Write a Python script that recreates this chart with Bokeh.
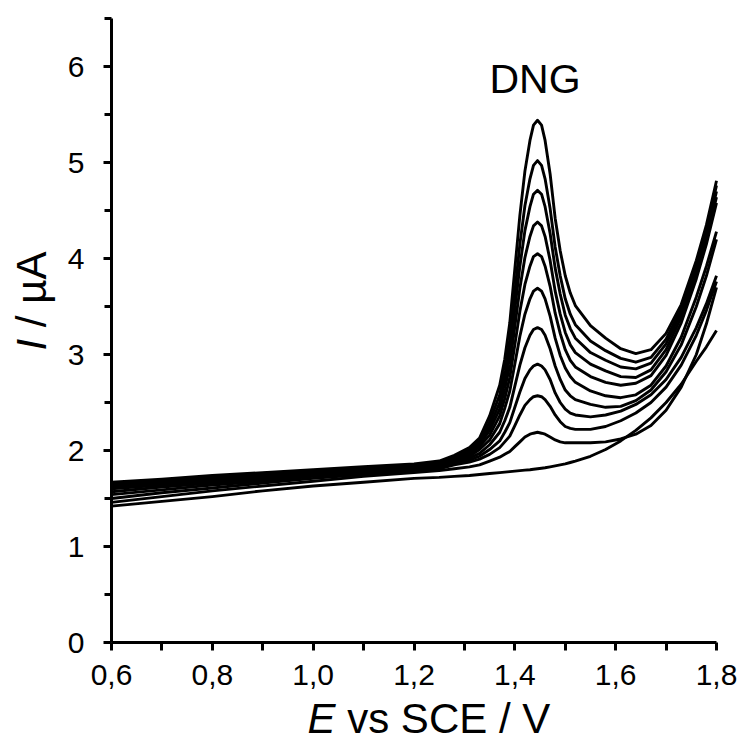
import math
from bokeh.plotting import figure
from bokeh.models import Range1d, FixedTicker, CustomJSTickFormatter, Label, ColumnDataSource
from bokeh.embed import file_html
from bokeh.resources import INLINE

# Potential E vs SCE / V
E = [0.60, 0.70, 0.80, 0.90, 1.00, 1.10, 1.20, 1.25, 1.28, 1.31, 1.33, 1.35, 1.37,
     1.38, 1.39, 1.40, 1.41, 1.42, 1.43, 1.437, 1.445, 1.453, 1.46, 1.47, 1.48, 1.49, 1.50,
     1.51, 1.52, 1.55, 1.58, 1.61, 1.64, 1.67, 1.70, 1.73, 1.76, 1.78, 1.80]

# Current I / uA for each voltammogram (largest DNG peak first, blank last)
c1 = [1.67, 1.70, 1.74, 1.77, 1.80, 1.83, 1.86, 1.89, 1.95, 2.03, 2.13, 2.36, 2.68,
      2.95, 3.33, 3.89, 4.45, 4.91, 5.23, 5.39, 5.44, 5.39, 5.23, 4.88, 4.42, 4.08, 3.82,
      3.64, 3.51, 3.30, 3.17, 3.06, 3.01, 3.05, 3.22, 3.52, 3.98, 4.35, 4.81]
c2 = [1.66, 1.69, 1.73, 1.76, 1.79, 1.82, 1.85, 1.88, 1.94, 2.01, 2.10, 2.30, 2.58,
      2.83, 3.15, 3.65, 4.15, 4.55, 4.83, 4.97, 5.02, 4.97, 4.83, 4.52, 4.12, 3.82, 3.58,
      3.42, 3.31, 3.14, 3.04, 2.96, 2.92, 2.97, 3.16, 3.48, 3.94, 4.30, 4.76]
c3 = [1.65, 1.68, 1.72, 1.75, 1.78, 1.81, 1.84, 1.87, 1.93, 2.00, 2.08, 2.25, 2.50,
      2.73, 3.02, 3.47, 3.92, 4.29, 4.54, 4.67, 4.71, 4.67, 4.54, 4.26, 3.90, 3.63, 3.41,
      3.27, 3.17, 3.02, 2.94, 2.87, 2.85, 2.91, 3.11, 3.44, 3.90, 4.26, 4.70]
c4 = [1.64, 1.67, 1.71, 1.74, 1.77, 1.80, 1.84, 1.86, 1.92, 1.98, 2.06, 2.21, 2.43,
      2.64, 2.89, 3.29, 3.69, 4.01, 4.23, 4.34, 4.38, 4.34, 4.23, 3.98, 3.66, 3.42, 3.23,
      3.10, 3.02, 2.90, 2.83, 2.77, 2.76, 2.84, 3.05, 3.39, 3.85, 4.21, 4.64]
c5 = [1.62, 1.66, 1.70, 1.73, 1.77, 1.80, 1.83, 1.85, 1.91, 1.96, 2.04, 2.16, 2.36,
      2.54, 2.76, 3.10, 3.45, 3.73, 3.92, 4.02, 4.05, 4.02, 3.92, 3.71, 3.43, 3.22, 3.05,
      2.94, 2.87, 2.77, 2.71, 2.68, 2.70, 2.78, 2.99, 3.33, 3.79, 4.15, 4.58]
c6 = [1.60, 1.64, 1.68, 1.72, 1.76, 1.79, 1.82, 1.84, 1.90, 1.94, 2.01, 2.11, 2.28,
      2.44, 2.62, 2.90, 3.19, 3.42, 3.58, 3.66, 3.69, 3.66, 3.58, 3.40, 3.17, 2.99, 2.86,
      2.77, 2.71, 2.62, 2.57, 2.55, 2.58, 2.68, 2.88, 3.18, 3.60, 3.92, 4.28]
c7 = [1.57, 1.62, 1.66, 1.70, 1.74, 1.78, 1.81, 1.83, 1.88, 1.92, 1.97, 2.06, 2.19,
      2.31, 2.45, 2.67, 2.89, 3.07, 3.20, 3.26, 3.28, 3.26, 3.20, 3.06, 2.88, 2.74, 2.63,
      2.57, 2.53, 2.48, 2.45, 2.46, 2.52, 2.63, 2.82, 3.10, 3.50, 3.82, 4.20]
c8 = [1.54, 1.59, 1.64, 1.68, 1.73, 1.77, 1.80, 1.82, 1.87, 1.90, 1.94, 2.01, 2.10,
      2.19, 2.29, 2.45, 2.61, 2.75, 2.84, 2.88, 2.90, 2.88, 2.84, 2.74, 2.60, 2.50, 2.43,
      2.39, 2.37, 2.35, 2.37, 2.41, 2.48, 2.58, 2.74, 2.97, 3.28, 3.53, 3.82]
c9 = [1.50, 1.56, 1.61, 1.66, 1.71, 1.75, 1.79, 1.81, 1.85, 1.88, 1.91, 1.96, 2.03,
      2.09, 2.15, 2.26, 2.37, 2.47, 2.53, 2.56, 2.57, 2.56, 2.53, 2.46, 2.37, 2.30, 2.25,
      2.23, 2.22, 2.22, 2.25, 2.31, 2.39, 2.50, 2.66, 2.89, 3.20, 3.46, 3.76]
c10 = [1.46, 1.52, 1.58, 1.63, 1.68, 1.73, 1.77, 1.79, 1.81, 1.83, 1.85, 1.89, 1.93,
       1.96, 1.99, 2.04, 2.09, 2.14, 2.17, 2.18, 2.19, 2.18, 2.17, 2.14, 2.11, 2.09, 2.08,
       2.08, 2.08, 2.08, 2.09, 2.12, 2.17, 2.26, 2.42, 2.66, 3.00, 3.32, 3.70]
blank = [1.42, 1.47, 1.52, 1.58, 1.63, 1.67, 1.71, 1.72, 1.73, 1.74, 1.75, 1.76, 1.77,
         1.775, 1.78, 1.785, 1.79, 1.795, 1.80, 1.805, 1.81, 1.815, 1.82, 1.83, 1.84, 1.85, 1.86,
         1.875, 1.89, 1.94, 2.01, 2.10, 2.21, 2.34, 2.50, 2.69, 2.93, 3.08, 3.25]

curves = [c1, c2, c3, c4, c5, c6, c7, c8, c9, c10, blank]

x_major = [0.6, 0.8, 1.0, 1.2, 1.4, 1.6, 1.8]
x_minor = [0.7, 0.9, 1.1, 1.3, 1.5, 1.7]
y_major = [0, 1, 2, 3, 4, 5, 6]
y_minor = [0.5, 1.5, 2.5, 3.5, 4.5, 5.5, 6.5]

FONT = "Liberation Sans"

# The frame fills the whole canvas; the axes are pinned at E = 0.6 and I = 0
p = figure(width=742, height=744, output_backend="svg", toolbar_location=None,
           x_range=Range1d(0.37983, 1.85157), y_range=Range1d(-1.0625, 6.6875),
           min_border_left=0, min_border_right=0, min_border_top=0, min_border_bottom=0)
p.outline_line_color = None
p.xgrid.visible = False
p.ygrid.visible = False
p.background_fill_color = "white"
p.border_fill_color = "white"

for c in curves:
    src = ColumnDataSource(dict(x=E, y=c))
    p.line("x", "y", source=src, line_color="black", line_width=2.9, line_join="round")

for ax in (p.xaxis[0], p.yaxis[0]):
    ax.axis_line_width = 3
    ax.axis_line_color = "black"
    ax.major_tick_line_width = 3
    ax.minor_tick_line_width = 3
    ax.major_tick_in = 0
    ax.major_tick_out = 8
    ax.minor_tick_in = 0
    ax.major_label_text_font = FONT
    ax.major_label_text_font_size = "30px"
    ax.major_label_text_color = "black"
    ax.axis_label = None

p.xaxis[0].fixed_location = 0
p.xaxis[0].bounds = (0.6, 1.8)
p.xaxis[0].ticker = FixedTicker(ticks=x_major, minor_ticks=x_minor)
p.xaxis[0].minor_tick_out = 8
p.xaxis[0].major_label_standoff = 14
p.xaxis[0].formatter = CustomJSTickFormatter(code="return tick.toFixed(1).replace('.', ',');")

p.yaxis[0].fixed_location = 0.6
p.yaxis[0].bounds = (0, 6.5)
p.yaxis[0].ticker = FixedTicker(ticks=y_major, minor_ticks=y_minor)
p.yaxis[0].minor_tick_out = 7
p.yaxis[0].major_label_standoff = 19
p.yaxis[0].formatter = CustomJSTickFormatter(code="return tick.toFixed(0);")

# Axis titles (italic symbol + upright rest)
p.add_layout(Label(x=0.9888, y=-0.79, text="E", text_font=FONT, text_font_size="42px",
                   text_font_style="italic", text_color="black",
                   text_align="left", text_baseline="alphabetic"))
p.add_layout(Label(x=1.0675, y=-0.79, text="vs SCE / V", text_font=FONT, text_font_size="42px",
                   text_color="black", text_align="left", text_baseline="alphabetic"))
p.add_layout(Label(x=0.4412, y=3.0417, text="I", text_font=FONT, text_font_size="42px",
                   text_font_style="italic", text_color="black", angle=math.pi / 2,
                   text_align="left", text_baseline="alphabetic"))
p.add_layout(Label(x=0.4412, y=3.285, text="/ µA", text_font=FONT, text_font_size="42px",
                   text_color="black", angle=math.pi / 2,
                   text_align="left", text_baseline="alphabetic"))

p.add_layout(Label(x=1.44, y=5.87, text="DNG", text_font=FONT, text_font_size="41px",
                   text_color="black", text_align="center", text_baseline="alphabetic"))

open("out.html", "w").write(file_html(p, INLINE))
